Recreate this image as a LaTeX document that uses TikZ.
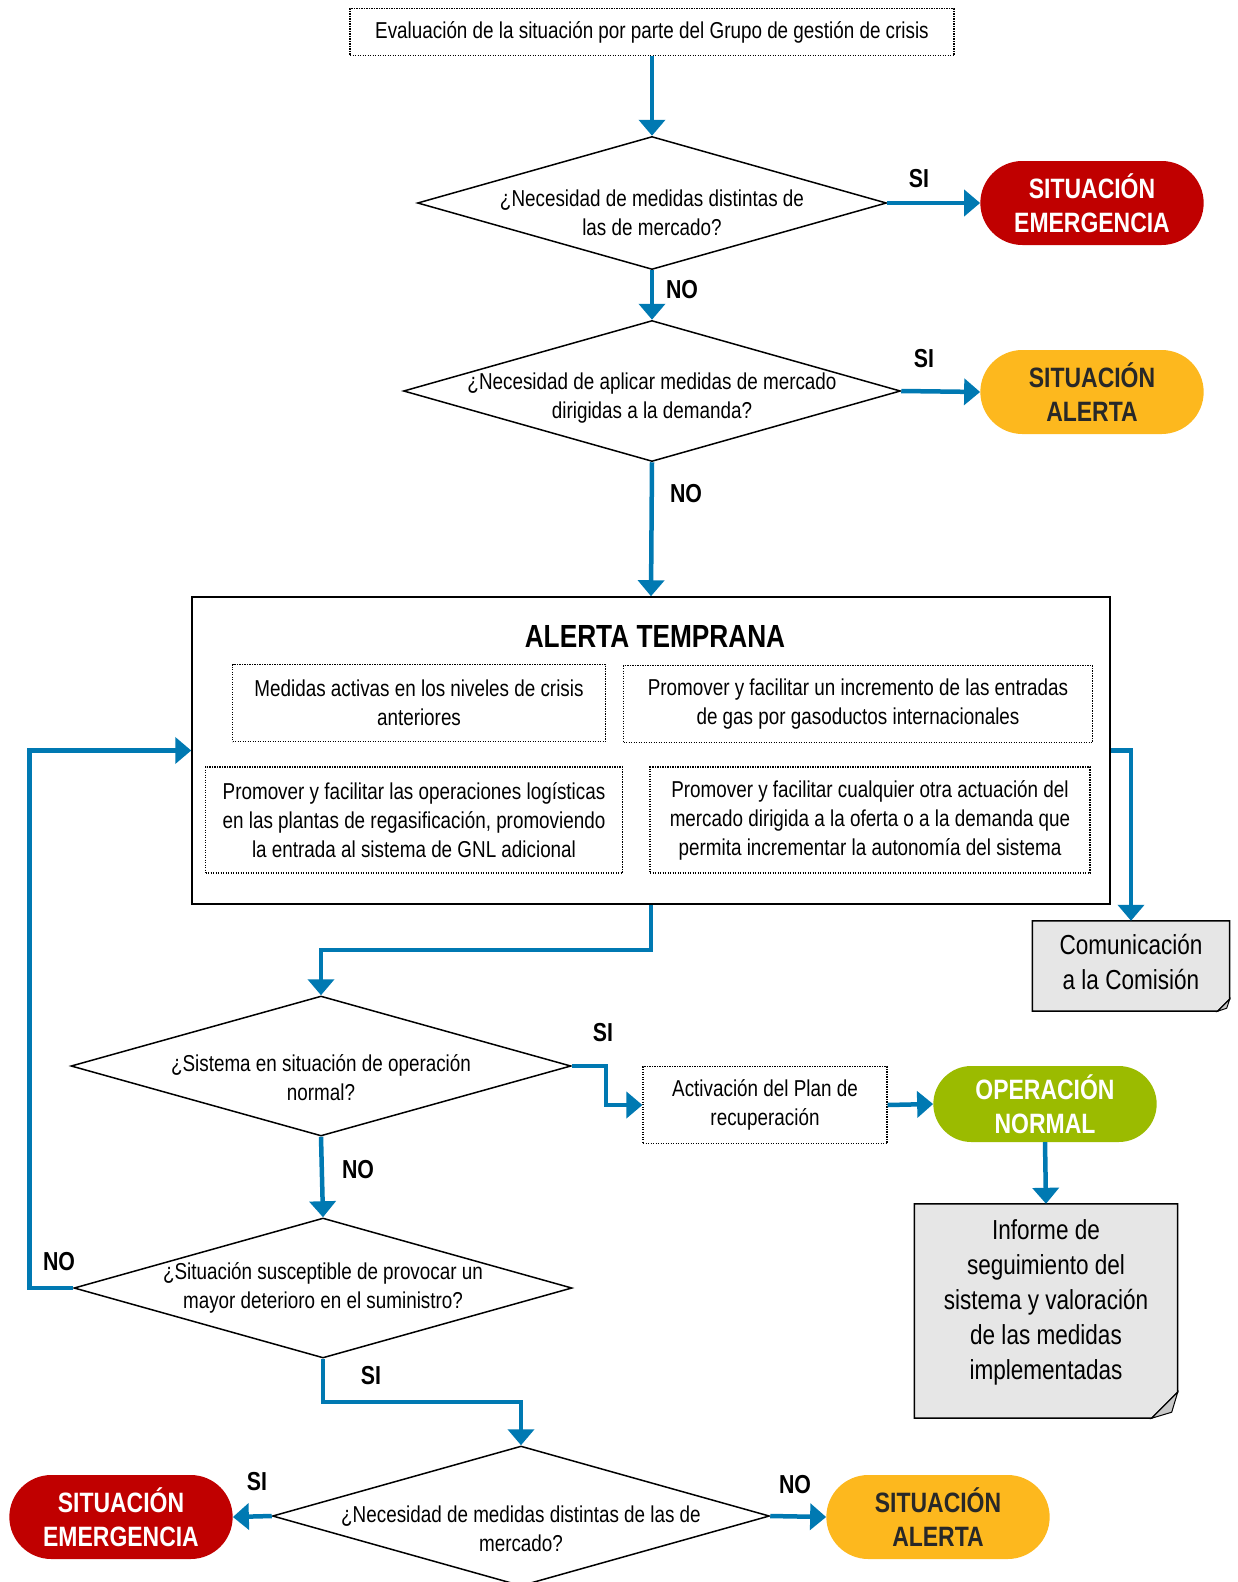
\documentclass[tikz,border=0pt]{standalone}
\usepackage{fontspec}
\setmainfont{Liberation Sans}[FakeStretch=0.82]
\usepackage{xcolor}
\usetikzlibrary{arrows.meta,shapes.geometric,shapes.misc}

\definecolor{flowblue}{RGB}{0,121,178}
\definecolor{emerred}{RGB}{192,0,0}
\definecolor{alertyellow}{RGB}{253,184,30}
\definecolor{normalgreen}{RGB}{155,187,0}
\definecolor{notegray}{RGB}{230,230,230}
\definecolor{foldgray}{RGB}{200,200,200}
\definecolor{darktext}{RGB}{40,40,40}

\tikzset{
  flow/.style={draw=flowblue, line width=4.5pt, -{Triangle[width=26pt,length=16pt]}},
  dotbox/.style={draw, line width=1.2pt, dash pattern=on 1.2pt off 1.3pt,
    align=center, font=\fontsize{23}{29}\selectfont},
  decision/.style={draw, diamond, line width=1.5pt, inner sep=0pt},
  qtext/.style={align=center, font=\fontsize{23}{29}\selectfont},
  pill/.style={rounded rectangle, minimum width=230pt, minimum height=84pt,
    align=center, font=\bfseries\fontsize{28}{34}\selectfont},
  answer/.style={font=\bfseries\fontsize{26}{30}\selectfont},
  notebox/.style={align=center, font=\fontsize{27.5}{35}\selectfont},
}

\begin{document}
\begin{tikzpicture}[x=1pt, y=-1pt]
\useasboundingbox (0,0) rectangle (1238,1582);

\def\fold{12pt} % pliegue de la nota pequena
\def\bigfold{26pt} % pliegue de la nota grande

% evaluacion inicial
\node[dotbox, minimum width=604pt, minimum height=47pt] (eval) at (652,32)
    {Evaluación de la situación por parte del Grupo de gestión de crisis};

% primera pregunta
\node[decision, minimum width=469pt, minimum height=133pt] (d1) at (652,203) {};
\node[qtext] (q1) at ([yshift=-10pt]d1.center)
    {¿Necesidad de medidas distintas de\\las de mercado?};
\node[pill, fill=emerred, text=white] (emer1) at (1092,203)
    {SITUACIÓN\\EMERGENCIA};

% segunda pregunta
\node[decision, minimum width=497pt, minimum height=141pt] (d2) at (652,391) {};
\node[qtext] (q2) at ([yshift=-7pt]d2.center)
    {¿Necesidad de aplicar medidas de mercado\\dirigidas a la demanda?};
\node[pill, fill=alertyellow, text=darktext] (alert1) at (1092,392)
    {SITUACIÓN\\ALERTA};

% alerta temprana
\node[draw, line width=1.5pt, minimum width=918pt, minimum height=307pt]
    (early) at (651,750.5) {};
\node[font=\bfseries\fontsize{32}{36}\selectfont] (title) at (655,636)
    {ALERTA TEMPRANA};
\node[dotbox, minimum width=373pt, minimum height=77pt] (m1) at (419,703)
    {Medidas activas en los niveles de crisis\\anteriores};
\node[dotbox, minimum width=469pt, minimum height=77pt] (m2) at (858,704)
    {Promover y facilitar un incremento de las entradas\\de gas por gasoductos internacionales};
\node[dotbox, minimum width=417pt, minimum height=106pt] (m3) at (414,820)
    {Promover y facilitar las operaciones logísticas\\en las plantas de regasificación, promoviendo\\la entrada al sistema de GNL adicional};
\node[dotbox, minimum width=440pt, minimum height=106pt] (m4) at (870,820)
    {Promover y facilitar cualquier otra actuación del\\mercado dirigida a la oferta o a la demanda que\\permita incrementar la autonomía del sistema};

% comunicacion
\node[minimum width=197pt, minimum height=90pt, inner sep=0pt] (com) at (1131,966) {};
\draw[line width=1.5pt, fill=notegray] (com.north west) -- (com.north east)
    -- ([yshift=\fold]com.south east) -- ([xshift=-\fold]com.south east)
    -- (com.south west) -- cycle;
\draw[line width=1pt, fill=foldgray] ([yshift=\fold]com.south east)
    -- ([xshift=-\fold]com.south east) -- ([xshift=-3pt,yshift=3pt]com.south east) -- cycle;
\node[notebox] (comtext) at ([yshift=4pt]com.center) {Comunicación\\a la Comisión};

% tercera pregunta
\node[decision, minimum width=500pt, minimum height=140pt] (d3) at (321,1066) {};
\node[qtext] (q3) at ([yshift=-12pt]d3.center)
    {¿Sistema en situación de operación\\normal?};
\node[dotbox, minimum width=244pt, minimum height=77pt] (plan) at (765,1105)
    {Activación del Plan de\\recuperación};
\node[pill, fill=normalgreen, text=white, minimum height=76pt] (normal) at (1045,1104)
    {OPERACIÓN\\NORMAL};

% informe
\node[minimum width=263pt, minimum height=214pt, inner sep=0pt] (report) at (1046,1311) {};
\draw[line width=1.5pt, fill=notegray] (report.north west) -- (report.north east)
    -- ([yshift=\bigfold]report.south east) -- ([xshift=-\bigfold]report.south east)
    -- (report.south west) -- cycle;
\draw[line width=1pt, fill=foldgray] ([yshift=\bigfold]report.south east)
    -- ([xshift=-\bigfold]report.south east) -- ([xshift=-6pt,yshift=6pt]report.south east) -- cycle;
\node[notebox] (reporttext) at ([yshift=9pt]report.center)
    {Informe de\\seguimiento del\\sistema y valoración\\de las medidas\\implementadas};

% cuarta pregunta
\node[decision, minimum width=498pt, minimum height=140pt] (d4) at (323,1288) {};
\node[qtext] (q4) at (d4.center)
    {¿Situación susceptible de provocar un\\mayor deterioro en el suministro?};

% quinta pregunta
\node[decision, minimum width=497pt, minimum height=140pt] (d5) at (521,1516) {};
\node[qtext] (q5) at ([yshift=-13pt]d5.center)
    {¿Necesidad de medidas distintas de las de\\mercado?};
\node[pill, fill=emerred, text=white] (emer2) at (121,1517)
    {SITUACIÓN\\EMERGENCIA};
\node[pill, fill=alertyellow, text=darktext] (alert2) at (938,1517)
    {SITUACIÓN\\ALERTA};

% respuestas
\node[answer] (si1) at (919,179) {SI};
\node[answer] (no1) at (682,290) {NO};
\node[answer] (si2) at (924,359) {SI};
\node[answer] (no2) at (686,494) {NO};
\node[answer] (si3) at (603,1033) {SI};
\node[answer] (no3) at (358,1170) {NO};
\node[answer] (no4) at (59,1262) {NO};
\node[answer] (si4) at (371,1376) {SI};
\node[answer] (si5) at (257,1482) {SI};
\node[answer] (no5) at (795,1485) {NO};

% conectores
\draw[flow] (eval.south) -- (d1.north);
\draw[flow] (d1.east) -- (emer1.west);
\draw[flow] (d1.south) -- (d2.north);
\draw[flow] (d2.east) -- (alert1.west);
\draw[flow] (d2.south) -- (early.north);
\draw[flow] (early.east) -| (com.north);
\draw[flow] (early.south) -- ++(0,45) -| (d3.north);
\draw[flow] (d3.east) -- ++(34,0) |- (plan.west);
\draw[flow] (plan.east) -- (normal.west);
\draw[flow] (normal.south) -- (report.north);
\draw[flow] (d3.south) -- (d4.north);
\draw[flow] (d4.west) -- ++(-44,0) |- (early.west);
\draw[flow] (d4.south) -- ++(0,43) -| (d5.north);
\draw[flow] (d5.west) -- (emer2.east);
\draw[flow] (d5.east) -- (alert2.west);

\end{tikzpicture}
\end{document}
